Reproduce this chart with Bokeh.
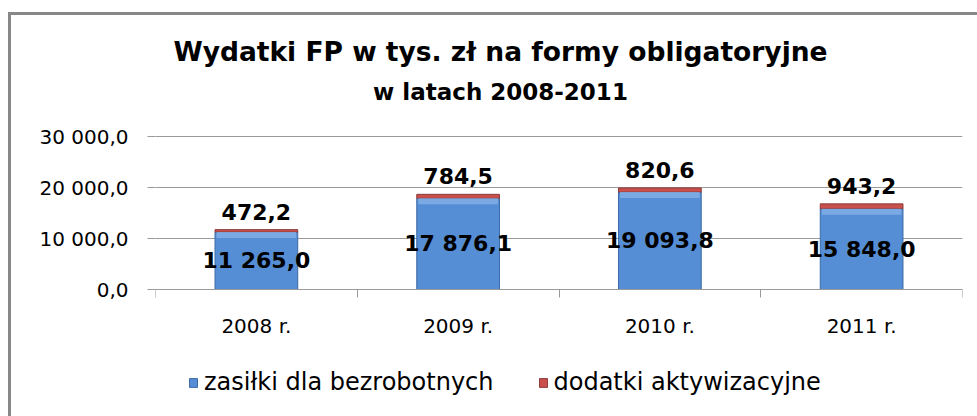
from bokeh.plotting import figure
from bokeh.models import (ColumnDataSource, Range1d, FixedTicker, LabelSet, Label,
                          Legend, LegendItem)
from bokeh.core.properties import value
from bokeh.embed import file_html
from bokeh.resources import INLINE

# ---- data ----
categories = ["2008 r.", "2009 r.", "2010 r.", "2011 r."]
zasilki = [11265.0, 17876.1, 19093.8, 15848.0]
dodatki = [472.2, 784.5, 820.6, 943.2]
y_ticks = [0, 10000, 20000, 30000]
y_tick_labels = ["0,0", "10 000,0", "20 000,0", "30 000,0"]
title_text = "Wydatki FP w tys. zł na formy obligatoryjne"
subtitle_text = "w latach 2008-2011"
series_names = ["zasiłki dla bezrobotnych", "dodatki aktywizacyjne"]


def pl(v):
    return f"{v:,.1f}".replace(",", " ").replace(".", ",")


# ---- layout / style constants (pixels) ----
W, H = 977, 416
PLOT_TOP_PX, PLOT_BOTTOM_PX = 136, 289      # where the 30 000 and 0 gridlines sit
FONT = "DejaVu Sans"
GRID = "#9a9a9a"
BLUE = "#558ED5"
BLUE_LIGHT = "#82AEE6"
RED = "#C9504D"
FRAME = "#888888"

ymax = max(y_ticks)
units_per_px = ymax / (PLOT_BOTTOM_PX - PLOT_TOP_PX)
y_start = -(H - PLOT_BOTTOM_PX) * units_per_px
y_end = ymax + PLOT_TOP_PX * units_per_px
band = 6 * units_per_px

xs = [i + 0.5 for i in range(len(categories))]
src = ColumnDataSource(dict(
    x=xs,
    zas=zasilki,
    dod=dodatki,
    total=[a + b for a, b in zip(zasilki, dodatki)],
    mid=[a / 2 for a in zasilki],
    band_bottom=[a - band for a in zasilki],
    zas_lbl=[pl(v) for v in zasilki],
    dod_lbl=[pl(v) for v in dodatki],
))

p = figure(width=W, height=H, output_backend="svg", toolbar_location=None,
           x_range=Range1d(0, len(categories)), y_range=Range1d(y_start, y_end),
           min_border_left=155, min_border_right=15, min_border_top=0,
           min_border_bottom=0, title=None)
p.outline_line_color = None
p.border_fill_color = None
p.background_fill_color = None
p.styles = {
    "background": (f"linear-gradient({FRAME},{FRAME}) 8px 12px / 100% 3px no-repeat, "
                   f"linear-gradient({FRAME},{FRAME}) 8px 12px / 3px 100% no-repeat, #ffffff"),
}
p.xgrid.visible = False
p.ygrid.grid_line_color = GRID
p.ygrid.ticker = FixedTicker(ticks=y_ticks)

rs = p.vbar_stack(["zas", "dod"], x="x", width=0.41, source=src,
                  fill_color=[BLUE, RED], line_color=["#3B6AA6", "#8E3A38"],
                  line_width=1)
# light bevel along the top of the blue segment
p.vbar(x="x", bottom="band_bottom", top="zas", width=0.41 - 0.015, source=src,
       fill_color=BLUE_LIGHT, fill_alpha=0.85, line_color=None)

# y axis
ya = p.yaxis[0]
ya.ticker = FixedTicker(ticks=y_ticks)
ya.major_label_overrides = {t: l for t, l in zip(y_ticks, y_tick_labels)}
ya.axis_line_color = None
ya.major_tick_line_color = GRID
ya.major_tick_out = 8
ya.major_tick_in = 0
ya.minor_tick_line_color = None
ya.major_label_standoff = 19
ya.major_label_text_font = FONT
ya.major_label_text_font_size = "20px"
ya.major_label_text_color = "#000000"

# x axis, pinned at value 0
xa = p.xaxis[0]
xa.fixed_location = 0
xa.ticker = FixedTicker(ticks=xs, minor_ticks=list(range(len(categories) + 1)))
xa.major_label_overrides = {x: c for x, c in zip(xs, categories)}
xa.axis_line_color = GRID
xa.major_tick_line_color = None
xa.minor_tick_line_color = GRID
xa.minor_tick_out = 8
xa.minor_tick_in = 0
xa.major_label_standoff = 16
xa.major_label_text_font = FONT
xa.major_label_text_font_size = "20px"
xa.major_label_text_color = "#000000"

# value labels
p.add_layout(LabelSet(x="x", y="total", text="dod_lbl", source=src,
                      text_align="center", text_baseline="alphabetic", y_offset=10,
                      text_font=value(FONT), text_font_style="bold",
                      text_font_size="22px", text_color="#000000"))
p.add_layout(LabelSet(x="x", y="mid", text="zas_lbl", source=src,
                      text_align="center", text_baseline="middle",
                      text_font=value(FONT), text_font_style="bold",
                      text_font_size="22px", text_color="#000000"))

# titles
p.add_layout(Label(x=500, y=51, x_units="canvas", y_units="canvas", text=title_text,
                   text_align="center", text_baseline="alphabetic",
                   text_font=FONT, text_font_style="bold", text_font_size="26.5px",
                   text_color="#000000"))
p.add_layout(Label(x=500, y=91, x_units="canvas", y_units="canvas", text=subtitle_text,
                   text_align="center", text_baseline="alphabetic",
                   text_font=FONT, text_font_style="bold", text_font_size="23px",
                   text_color="#000000"))

# legend
legend = Legend(items=[LegendItem(label=series_names[0], renderers=[rs[0]]),
                       LegendItem(label=series_names[1], renderers=[rs[1]])],
                orientation="horizontal", location=(33, 20),
                glyph_width=10, glyph_height=11, label_standoff=6, spacing=44,
                padding=0, margin=0, border_line_color=None,
                background_fill_alpha=0,
                label_text_font=FONT, label_text_font_size="24px",
                label_text_color="#000000", label_height=24)
p.add_layout(legend, "center")

open("out.html", "w").write(file_html(p, INLINE))
